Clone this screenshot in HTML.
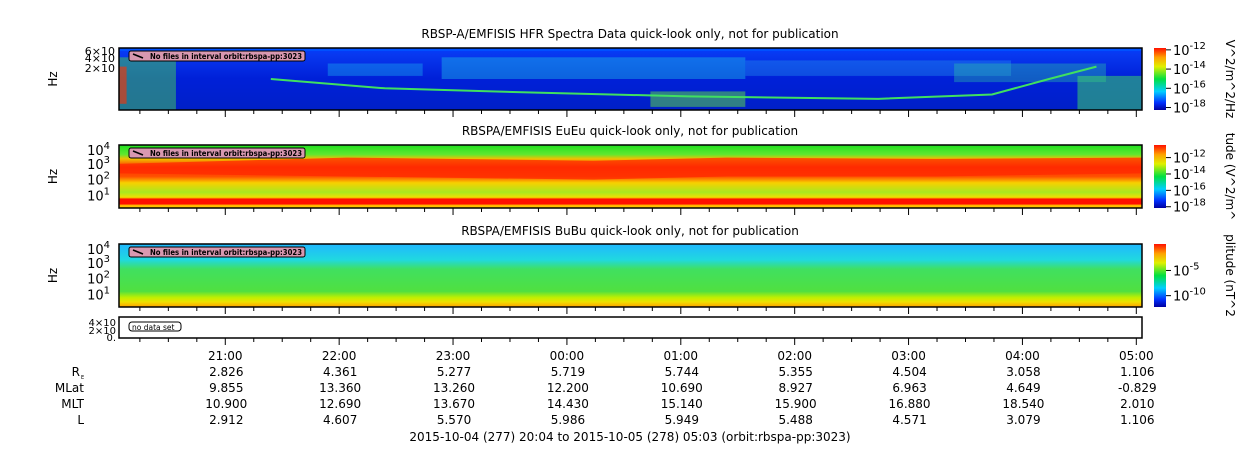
<!DOCTYPE html>
<html><head><meta charset="utf-8">
<style>
body{margin:0;background:#fff;}
svg{display:block;font-family:"DejaVu Sans","Liberation Sans",sans-serif;}
</style></head>
<body>
<svg id="chart" width="1250" height="449" viewBox="0 0 1250 449">
<defs>
<linearGradient id="rainbow" x1="0" y1="1" x2="0" y2="0">
<stop offset="0" stop-color="#0000a0"/><stop offset="0.12" stop-color="#0030ff"/>
<stop offset="0.3" stop-color="#00d0ff"/><stop offset="0.5" stop-color="#00e040"/>
<stop offset="0.7" stop-color="#e0f000"/><stop offset="0.85" stop-color="#ffa000"/>
<stop offset="1" stop-color="#ff1000"/></linearGradient>
<linearGradient id="p2v" x1="0" y1="0" x2="0" y2="1">
<stop offset="0" stop-color="#20e020"/><stop offset="0.15" stop-color="#60e830"/>
<stop offset="0.22" stop-color="#f0c000"/><stop offset="0.35" stop-color="#ff3000"/>
<stop offset="0.5" stop-color="#ff5000"/><stop offset="0.6" stop-color="#f8d000"/>
<stop offset="0.75" stop-color="#a8e820"/><stop offset="0.83" stop-color="#f0e000"/>
<stop offset="0.86" stop-color="#ff1000"/><stop offset="0.94" stop-color="#ff1000"/>
<stop offset="0.95" stop-color="#ffb000"/><stop offset="1" stop-color="#ffd000"/></linearGradient>
<linearGradient id="p3v" x1="0" y1="0" x2="0" y2="1">
<stop offset="0" stop-color="#20b8ff"/><stop offset="0.25" stop-color="#20d8e0"/>
<stop offset="0.4" stop-color="#40e060"/><stop offset="0.75" stop-color="#50e040"/>
<stop offset="0.85" stop-color="#c0f000"/><stop offset="0.92" stop-color="#f0e000"/>
<stop offset="1" stop-color="#ffa000"/></linearGradient>
<linearGradient id="p1v" x1="0" y1="0" x2="0" y2="1">
<stop offset="0" stop-color="#0040ff"/><stop offset="0.1" stop-color="#0838f0"/>
<stop offset="0.5" stop-color="#0020d8"/><stop offset="1" stop-color="#0020c8"/></linearGradient>
</defs>
</svg>
<script>
const times=["21:00","22:00","23:00","00:00","01:00","02:00","03:00","04:00","05:00"];
const timeMin=[56,116,176,236,296,356,416,476,536]; // minutes since 20:04
const totalMin=539;
const rowLabels=["R_E","MLat","MLT","L"];
const RE=["2.826","4.361","5.277","5.719","5.744","5.355","4.504","3.058","1.106"];
const MLat=["9.855","13.360","13.260","12.200","10.690","8.927","6.963","4.649","-0.829"];
const MLT=["10.900","12.690","13.670","14.430","15.140","15.900","16.880","18.540","2.010"];
const Lval=["2.912","4.607","5.570","5.986","5.949","5.488","4.571","3.079","1.106"];
const cb1=["10-12","10-14","10-16","10-18"];
const cb2=["10-12","10-14","10-16","10-18"];
const cb3=["10-5","10-10"];
// panel-1 activity patches: [startMin,endMin,topFrac,botFrac,color,opacity]
const p1patches=[[0,30,0.15,1,"#40c060",0.55],[0,4,0.3,0.9,"#ff3000",0.6],[110,160,0.25,0.45,"#20c0f0",0.35],[170,330,0.15,0.5,"#20c8e8",0.4],[330,470,0.2,0.45,"#30b0f0",0.3],[280,330,0.7,0.95,"#60e040",0.5],[440,520,0.25,0.55,"#30d0a0",0.35],[505,539,0.45,1,"#40e060",0.5]];
// panel-1 descending emission line: [min, frac]
const p1line=[[80,0.5],[140,0.65],[220,0.72],[300,0.78],[400,0.82],[460,0.75],[490,0.5],[515,0.3]];
// panel-2 red band extent (frac) over time
const p2red=[[0,0.3,0.45],[120,0.2,0.5],[250,0.25,0.55],[320,0.2,0.5],[430,0.22,0.5],[539,0.2,0.45]];

const svg=document.getElementById('chart');
const NS="http://www.w3.org/2000/svg";
const X0=119,X1=1142;
function xs(m){return X0+(X1-X0)*m/totalMin;}
function el(tag,attrs,parent){const e=document.createElementNS(NS,tag);for(const k in attrs)e.setAttribute(k,attrs[k]);(parent||svg).appendChild(e);return e;}
function txt(x,y,s,anchor,size,parent){const t=el('text',{x:x,y:y,'font-size':size||12,'text-anchor':anchor||'start',fill:'#000'},parent);t.textContent=s;return t;}
function pow(x,y,s,anchor,parent){
 const t=el('text',{x:x,y:y,'font-size':13,'text-anchor':anchor||'start'},parent);
 const m=s.match(/^(10)(.*)$/);
 t.appendChild(document.createTextNode(m[1]));
 const sp=document.createElementNS(NS,'tspan');sp.setAttribute('dy','-6');sp.setAttribute('font-size','10');sp.textContent=m[2];t.appendChild(sp);return t;}

const panels=[
 {y:48,h:62,fill:"url(#p1v)",title:"RBSP-A/EMFISIS  HFR Spectra Data quick-look only, not for publication",ty:38,name:"hfr-panel",cb:cb1,ctitle:"V^2/m^2/Hz"},
 {y:145,h:63,fill:"url(#p2v)",title:"RBSPA/EMFISIS  EuEu quick-look only, not for publication",ty:135,name:"eueu-panel",cb:cb2,ctitle:"tude (V^2/m^"},
 {y:244,h:63,fill:"url(#p3v)",title:"RBSPA/EMFISIS  BuBu quick-look only, not for publication",ty:235,name:"bubu-panel",cb:cb3,ctitle:"plitude (nT^2"}
];
panels.forEach((p,i)=>{
 const g=el('g',{});
 
 
 el('rect',{x:X0,y:p.y,width:X1-X0,height:p.h,fill:p.fill},g);
 if(i===0){
  p1patches.forEach(d=>{const r=el('rect',{x:xs(d[0]),y:p.y+p.h*d[2],width:xs(d[1])-xs(d[0]),height:p.h*(d[3]-d[2]),fill:d[4],opacity:d[5]},g);
   });
  const pts=p1line.map(d=>xs(d[0])+','+(p.y+p.h*d[1])).join(' ');
  const l=el('polyline',{points:pts,fill:'none',stroke:'#40e060','stroke-width':2},g);
  
  el('rect',{x:X0,y:p.y,width:X1-X0,height:3,fill:'#0050ff'},g);
 }
 if(i===1){
  const top=p2red.map(d=>xs(d[0])+','+(p.y+p.h*d[1])).join(' ');
  const bot=p2red.slice().reverse().map(d=>xs(d[0])+','+(p.y+p.h*d[2])).join(' ');
  const r=el('polygon',{points:top+' '+bot,fill:'#ff2800',opacity:0.75},g);
  
 }
 el('rect',{x:X0,y:p.y,width:X1-X0,height:p.h,fill:'none',stroke:'#000','stroke-width':1.5},g);
 const lb=el('rect',{x:X0+10,y:p.y+3,width:176,height:10,rx:2,fill:'#d898b0',stroke:'#000','stroke-width':1},g);
 
 el('line',{x1:X0+14,y1:p.y+6,x2:X0+24,y2:p.y+10,stroke:'#000','stroke-width':1.5},g);
 const nt=txt(X0+31,p.y+11,"No files in interval orbit:rbspa-pp:3023",'start',7.5,g);
 nt.setAttribute('font-weight','bold');nt.setAttribute('textLength','152');nt.setAttribute('lengthAdjust','spacingAndGlyphs');
 const t=txt(630,p.ty,p.title,'middle',12);
 
 const yl=txt(0,0,"Hz",'middle',12);
 yl.setAttribute('transform','translate(57,'+(p.y+p.h/2)+') rotate(-90)');
 
 const cb=el('rect',{x:1154,y:p.y,width:12,height:p.h,fill:'url(#rainbow)'});
 
 p.cb.forEach((s,k)=>{const yy=i===2?p.y+p.h*(0.42+k*0.4):p.y+p.h*((i===0?0.03:0.2)+k*(i===0?0.31:0.26));
  el('line',{x1:1166,y1:yy,x2:1171,y2:yy,stroke:'#000'});pow(1173,yy+5,s);});
 const ct=txt(0,0,p.ctitle,'middle',12);
 ct.setAttribute('transform','translate(1226,'+(p.y+p.h/2)+') rotate(90)');
 
 if(i===0){txt(115,55,"6×10",'end',11);txt(115,62,"4×10",'end',11);txt(115,72,"2×10",'end',11);}
 else{[[0.08,"4"],[0.3,"3"],[0.55,"2"],[0.8,"1"]].forEach(d=>{pow(110,p.y+p.h*d[0]+5,"10"+d[1],'end');});}
 for(let m=11;m<=totalMin;m+=15){const major=(m-56)%60===0;el('line',{x1:xs(m),y1:p.y+p.h,x2:xs(m),y2:p.y+p.h+(major?7:4),stroke:'#000'});}
});
const p4=el('rect',{x:X0,y:317,width:X1-X0,height:21,fill:'#fff',stroke:'#000','stroke-width':1.5});

el('rect',{x:129,y:322,width:52,height:9,rx:3,fill:'#fff',stroke:'#000'});
txt(132,330,"no data set",'start',7.5);
txt(116,326,"4×10",'end',10);txt(116,334,"2×10",'end',10);txt(116,341,"0.",'end',10);
for(let m=11;m<=totalMin;m+=15){const major=(m-56)%60===0;el('line',{x1:xs(m),y1:338,x2:xs(m),y2:338+(major?7:4),stroke:'#000'});}
const rows=[times,RE,MLat,MLT,Lval];
rows.forEach((r,ri)=>{const y=360+ri*16;
 if(ri>0){const lab=rowLabels[ri-1];
  if(lab==="R_E"){txt(80,y,"R",'end',12);txt(81,y+3,"E",'start',5);} else txt(84,y,lab,'end',12);}
 r.forEach((v,k)=>{const t=txt(xs(timeMin[k])+(ri===0?0:1),y,v,'middle',12);
  });
});
const ft=txt(630,441,"2015-10-04 (277) 20:04 to 2015-10-05 (278) 05:03 (orbit:rbspa-pp:3023)",'middle',12);

</script>
</body></html>
